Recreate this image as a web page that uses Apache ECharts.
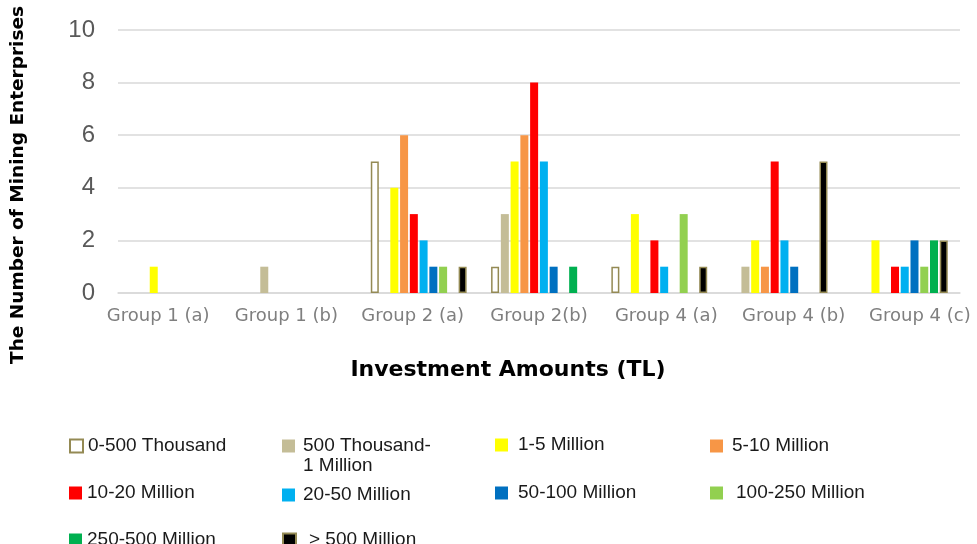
<!DOCTYPE html>
<html>
<head>
<meta charset="utf-8">
<title>Mining Enterprises by Investment Amount</title>
<script src="https://cdn.jsdelivr.net/npm/echarts@6/dist/echarts.min.js"></script>
<style>
html, body { margin: 0; padding: 0; background: #fff; }
#main { width: 977px; height: 544px; }
</style>
</head>
<body>
<div id="main"></div>
<script>
// categories and ranges
var groups = ['Group 1 (a)', 'Group 1 (b)', 'Group 2 (a)', 'Group 2(b)', 'Group 4 (a)', 'Group 4 (b)', 'Group 4 (c)'];
var ranges = ['0-500 Thousand', '500 Thousand-1 Million', '1-5 Million', '5-10 Million', '10-20 Million',
              '20-50 Million', '50-100 Million', '100-250 Million', '250-500 Million', '> 500 Million'];

// number of enterprises per group, one array per investment range
var v0_500k    = [0, 0, 5, 1, 1, 0, 0];
var v500k_1m   = [0, 1, 0, 3, 0, 1, 0];
var v1_5m      = [1, 0, 4, 5, 3, 2, 2];
var v5_10m     = [0, 0, 6, 6, 0, 1, 0];
var v10_20m    = [0, 0, 3, 8, 2, 5, 1];
var v20_50m    = [0, 0, 2, 5, 1, 2, 1];
var v50_100m   = [0, 0, 1, 1, 0, 1, 2];
var v100_250m  = [0, 0, 1, 0, 3, 0, 1];
var v250_500m  = [0, 0, 0, 1, 0, 0, 2];
var v500m_up   = [0, 0, 1, 0, 1, 5, 2];

var yMin = 0, yMax = 10, yStep = 2;

var values = [v0_500k, v500k_1m, v1_5m, v5_10m, v10_20m, v20_50m, v50_100m, v100_250m, v250_500m, v500m_up];
var colors = ['#ffffff', '#c4bd97', '#ffff00', '#f79646', '#ff0000', '#00b0f0', '#0070c0', '#92d050', '#00b050', '#000000'];

// legend spots: [icon left, icon center y, extra text gap]
var legendSpots = [[69, 443, 0], [282, 443, 3], [495, 442, 5], [710, 443, 4],
                   [69, 490, 0], [282, 492, 3], [495, 490, 5], [710, 490, 8],
                   [69, 537, 0], [282, 537, 8]];

// small shifts of the x labels, as in the picture
var labelShift = [-20, -12, -6, 0, 7, 14, 20];

var myChart = echarts.init(document.getElementById('main'));

var series = [], legends = [];
for (var i = 0; i < ranges.length; i++) {
  var st = { color: colors[i] };
  if (i === 0 || i === 9) { st.borderColor = '#948a54'; st.borderWidth = 1.5; }
  series.push({
    name: ranges[i],
    type: 'bar',
    barWidth: 8,
    barGap: '22%',
    itemStyle: st,
    data: values[i].map(function (v) { return v === 0 ? null : v; })
  });
  var sp = legendSpots[i];
  var lg = {
    data: [ranges[i]],
    left: sp[0],
    top: sp[1] - 6.5,
    padding: 0,
    icon: 'rect',
    itemWidth: 13,
    itemHeight: 13,
    selectedMode: false,
    textStyle: { fontFamily: 'Liberation Sans', fontSize: 19, color: '#1a1a1a', padding: [0, 0, 0, sp[2]] }
  };
  if (i === 1) {
    // second line is drawn as a separate text below
    lg.formatter = function () { return '500 Thousand-'; };
  }
  legends.push(lg);
}

var rich = {};
labelShift.forEach(function (d, k) {
  rich['g' + k] = { fontFamily: 'DejaVu Sans', fontSize: 18, color: '#7f7f7f',
                    padding: d > 0 ? [0, 0, 0, 2 * d] : [0, -2 * d, 0, 0] };
});

var option = {
  backgroundColor: '#ffffff',
  animation: false,
  grid: { left: 118, right: 17, top: 30, bottom: 251, containLabel: false },
  legend: legends,
  xAxis: {
    type: 'category',
    data: groups,
    axisLine: { lineStyle: { color: '#d9d9d9', width: 1.5 } },
    axisTick: { show: false },
    axisLabel: {
      interval: 0,
      margin: 14,
      hideOverlap: false,
      formatter: function (v, k) { return '{g' + k + '|' + v + '}'; },
      rich: rich
    }
  },
  yAxis: {
    type: 'value',
    min: yMin, max: yMax, interval: yStep,
    axisLine: { show: false },
    axisTick: { show: false },
    splitLine: { lineStyle: { color: '#d9d9d9', width: 1.5 } },
    axisLabel: { margin: 23, fontFamily: 'Liberation Sans', fontSize: 24, color: '#595959' }
  },
  graphic: [
    { type: 'text', x: 18, y: 185, rotation: Math.PI / 2,
      style: { text: 'The Number of Mining Enterprises', fontFamily: 'DejaVu Sans', fontWeight: 'bold',
               fontSize: 18.5, fill: '#000', align: 'center', verticalAlign: 'middle' } },
    { type: 'text', x: 508, y: 370,
      style: { text: 'Investment Amounts (TL)', fontFamily: 'DejaVu Sans', fontWeight: 'bold',
               fontSize: 22, fill: '#000', align: 'center', verticalAlign: 'middle' } },
    { type: 'text', x: 303, y: 466,
      style: { text: '1 Million', fontFamily: 'Liberation Sans', fontSize: 19, fill: '#1a1a1a',
               align: 'left', verticalAlign: 'middle' } }
  ],
  series: series
};

myChart.setOption(option);
</script>
</body>
</html>
